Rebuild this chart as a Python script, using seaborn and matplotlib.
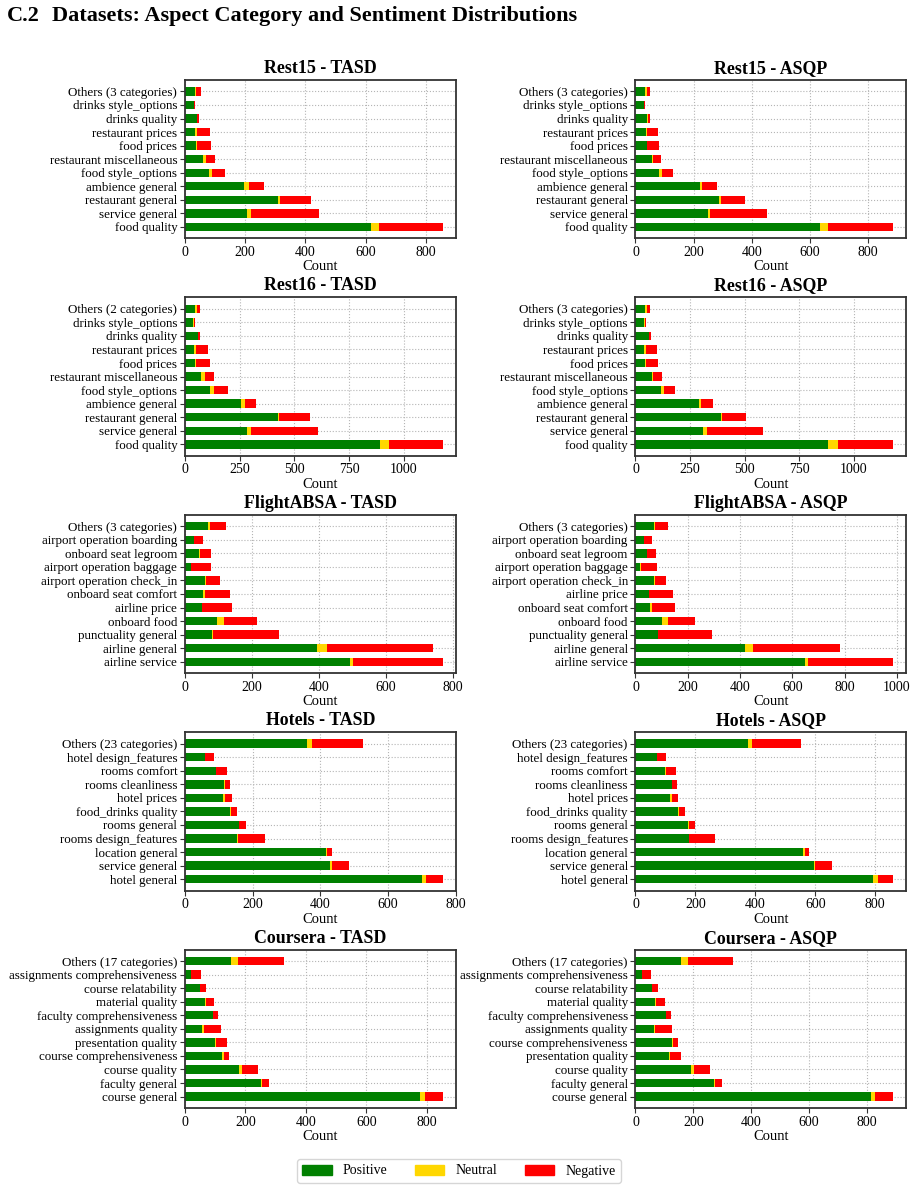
import pandas as pd
import matplotlib.pyplot as plt
import seaborn as sns
from matplotlib.patches import Patch

# Colours for the three sentiments
GREEN = '#008000'
GOLD = '#FFD700'
RED = '#FF0000'

# ---- data (top row of each panel first) ----
rest_cats_3 = ['Others (3 categories)', 'drinks style_options', 'drinks quality', 'restaurant prices',
               'food prices', 'restaurant miscellaneous', 'food style_options', 'ambience general',
               'restaurant general', 'service general', 'food quality']
rest_cats_2 = ['Others (2 categories)'] + rest_cats_3[1:]

rest15_tasd_pos = [33, 29, 40, 33, 37, 60, 80, 196, 310, 206, 619]
rest15_tasd_neu = [5, 0, 1, 6, 3, 10, 10, 17, 6, 14, 27]
rest15_tasd_neg = [15, 4, 6, 43, 47, 30, 43, 50, 104, 226, 210]

rest15_asqp_pos = [34, 31, 40, 37, 40, 57, 82, 223, 288, 250, 636]
rest15_asqp_neu = [6, 0, 3, 3, 1, 4, 10, 7, 7, 7, 28]
rest15_asqp_neg = [10, 2, 7, 38, 41, 27, 38, 51, 83, 196, 223]

rest16_tasd_pos = [44, 35, 58, 40, 47, 73, 115, 255, 424, 284, 893]
rest16_tasd_neu = [9, 4, 1, 9, 2, 19, 18, 20, 5, 18, 41]
rest16_tasd_neg = [14, 5, 8, 56, 66, 41, 64, 50, 144, 307, 243]

rest16_asqp_pos = [44, 40, 61, 40, 44, 76, 118, 292, 392, 310, 882]
rest16_asqp_neu = [9, 3, 1, 9, 5, 5, 13, 9, 5, 18, 46]
rest16_asqp_neg = [14, 6, 10, 50, 55, 41, 51, 55, 110, 257, 252]

flight_tasd_cats = ['Others (3 categories)', 'airport operation boarding', 'onboard seat legroom',
                    'airport operation baggage', 'airport operation check_in', 'onboard seat comfort',
                    'airline price', 'onboard food', 'punctuality general', 'airline general', 'airline service']
flight_tasd_pos = [69, 26, 42, 18, 60, 54, 50, 96, 81, 395, 491]
flight_tasd_neu = [6, 0, 3, 0, 3, 6, 0, 21, 3, 30, 9]
flight_tasd_neg = [48, 28, 33, 60, 42, 75, 91, 98, 197, 314, 269]

flight_asqp_cats = ['Others (3 categories)', 'airport operation boarding', 'onboard seat legroom',
                    'airport operation baggage', 'airport operation check_in', 'airline price',
                    'onboard seat comfort', 'onboard food', 'punctuality general', 'airline general', 'airline service']
flight_asqp_pos = [71, 33, 45, 18, 71, 51, 56, 102, 87, 420, 649]
flight_asqp_neu = [4, 0, 1, 4, 4, 0, 8, 23, 1, 30, 12]
flight_asqp_neg = [50, 31, 33, 61, 42, 93, 88, 103, 206, 333, 325]

hotel_cats = ['Others (23 categories)', 'hotel design_features', 'rooms comfort', 'rooms cleanliness',
              'hotel prices', 'food_drinks quality', 'rooms general', 'rooms design_features',
              'location general', 'service general', 'hotel general']
hotels_tasd_pos = [362, 59, 92, 116, 113, 133, 160, 154, 418, 430, 700]
hotels_tasd_neu = [14, 0, 0, 3, 6, 3, 0, 3, 3, 6, 14]
hotels_tasd_neg = [149, 27, 33, 14, 20, 18, 21, 80, 15, 50, 48]

hotels_asqp_pos = [376, 72, 99, 122, 116, 142, 176, 179, 560, 596, 793]
hotels_asqp_neu = [13, 0, 3, 0, 6, 2, 3, 0, 6, 3, 17]
hotels_asqp_neg = [164, 30, 34, 17, 20, 21, 20, 87, 14, 56, 50]

coursera_tasd_cats = ['Others (17 categories)', 'assignments comprehensiveness', 'course relatability',
                      'material quality', 'faculty comprehensiveness', 'assignments quality',
                      'presentation quality', 'course comprehensiveness', 'course quality',
                      'faculty general', 'course general']
coursera_tasd_pos = [153, 20, 49, 66, 93, 56, 100, 123, 179, 252, 777]
coursera_tasd_neu = [23, 0, 0, 4, 0, 7, 3, 6, 10, 4, 16]
coursera_tasd_neg = [153, 33, 21, 26, 17, 56, 36, 17, 53, 23, 60]

coursera_asqp_cats = ['Others (17 categories)', 'assignments comprehensiveness', 'course relatability',
                      'material quality', 'faculty comprehensiveness', 'assignments quality',
                      'course comprehensiveness', 'presentation quality', 'course quality',
                      'faculty general', 'course general']
coursera_asqp_pos = [158, 24, 58, 67, 106, 64, 127, 116, 192, 272, 814]
coursera_asqp_neu = [24, 0, 0, 5, 0, 3, 2, 4, 11, 2, 13]
coursera_asqp_neg = [155, 30, 20, 30, 17, 60, 18, 38, 55, 25, 63]

sns.set_theme(style='white')
plt.rcParams['font.family'] = ['Liberation Serif', 'DejaVu Serif']
plt.rcParams.update({'text.color': 'black', 'axes.labelcolor': 'black',
                     'xtick.color': 'black', 'ytick.color': 'black'})

BAR_W = 0.62


def plot_panel(ax, title, cats, pos, neu, neg):
    df = pd.DataFrame({'cat': cats, 'pos': pos, 'neu': neu, 'neg': neg})
    df['pos_neu'] = df['pos'] + df['neu']
    df['total'] = df['pos_neu'] + df['neg']
    # stack by overdrawing cumulative sums
    for col, color in [('total', RED), ('pos_neu', GOLD), ('pos', GREEN)]:
        sns.barplot(data=df, x=col, y='cat', order=cats, color=color, saturation=1,
                    width=BAR_W, linewidth=0, errorbar=None, ax=ax)
    n = len(cats)
    pad = BAR_W / 2 + 0.05 * (n - 1 + BAR_W)
    ax.set_ylim(n - 1 + pad, -pad)
    ax.grid(True, linestyle=':', color='#b5b5b5', linewidth=0.8)
    ax.set_axisbelow(True)
    for s in ax.spines.values():
        s.set_color('#333333')
        s.set_linewidth(1.3)
    ax.tick_params(axis='both', bottom=True, left=True, length=3.5, width=0.8,
                   color='#333333', labelsize=9.4, pad=2)
    ax.tick_params(axis='x', labelsize=10)
    ax.set_ylabel('')
    ax.set_xlabel('Count', fontsize=10.5, labelpad=1)
    ax.set_title(title, fontsize=12.9, fontweight='bold', pad=5)


fig, axes = plt.subplots(5, 2, figsize=(9.16, 11.91), dpi=100)
fig.subplots_adjust(left=185 / 916, right=906 / 916, top=1 - 80 / 1191, bottom=1 - 1108 / 1191,
                    wspace=0.665, hspace=0.373)

plot_panel(axes[0, 0], 'Rest15 - TASD', rest_cats_3, rest15_tasd_pos, rest15_tasd_neu, rest15_tasd_neg)
plot_panel(axes[0, 1], 'Rest15 - ASQP', rest_cats_3, rest15_asqp_pos, rest15_asqp_neu, rest15_asqp_neg)
plot_panel(axes[1, 0], 'Rest16 - TASD', rest_cats_2, rest16_tasd_pos, rest16_tasd_neu, rest16_tasd_neg)
plot_panel(axes[1, 1], 'Rest16 - ASQP', rest_cats_3, rest16_asqp_pos, rest16_asqp_neu, rest16_asqp_neg)
plot_panel(axes[2, 0], 'FlightABSA - TASD', flight_tasd_cats, flight_tasd_pos, flight_tasd_neu, flight_tasd_neg)
plot_panel(axes[2, 1], 'FlightABSA - ASQP', flight_asqp_cats, flight_asqp_pos, flight_asqp_neu, flight_asqp_neg)
plot_panel(axes[3, 0], 'Hotels - TASD', hotel_cats, hotels_tasd_pos, hotels_tasd_neu, hotels_tasd_neg)
plot_panel(axes[3, 1], 'Hotels - ASQP', hotel_cats, hotels_asqp_pos, hotels_asqp_neu, hotels_asqp_neg)
plot_panel(axes[4, 0], 'Coursera - TASD', coursera_tasd_cats, coursera_tasd_pos, coursera_tasd_neu, coursera_tasd_neg)
plot_panel(axes[4, 1], 'Coursera - ASQP', coursera_asqp_cats, coursera_asqp_pos, coursera_asqp_neu, coursera_asqp_neg)

# section heading
fig.text(7 / 916, 1 - 16 / 1191, 'C.2', fontsize=16, fontweight='bold', va='center')
fig.text(52 / 916, 1 - 16 / 1191, 'Datasets: Aspect Category and Sentiment Distributions',
         fontsize=16, fontweight='bold', va='center')

handles = [Patch(color=GREEN, label='Positive'), Patch(color=GOLD, label='Neutral'),
           Patch(color=RED, label='Negative')]
fig.legend(handles=handles, ncol=3, loc='center', bbox_to_anchor=(459 / 916, 1 - 1171 / 1191),
           fontsize=10, frameon=True, fancybox=True, edgecolor='#cccccc', handlelength=2.1,
           handleheight=0.7, handletextpad=0.8, columnspacing=2.0, borderpad=0.4)

fig.savefig('out.png', dpi=100)
